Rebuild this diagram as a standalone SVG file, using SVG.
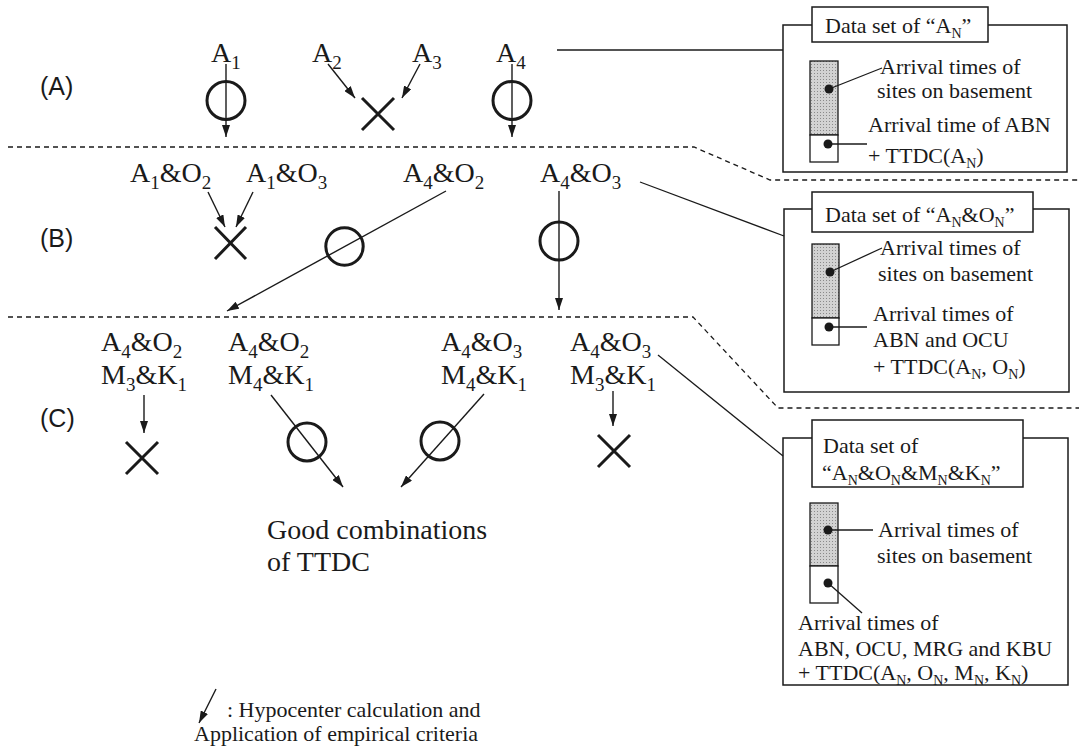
<svg xmlns="http://www.w3.org/2000/svg" width="1079" height="748" viewBox="0 0 1079 748">
<style>
.lbl{font-family:"Liberation Serif","Times New Roman",serif;font-size:28px;fill:#1a1a1a}
.sub{font-size:19px}
.sm{font-family:"Liberation Serif","Times New Roman",serif;font-size:22px;fill:#1a1a1a}
.ss{font-size:14px}
.sec{font-family:"Liberation Sans",Arial,sans-serif;font-size:25px;fill:#1a1a1a}
.arr{stroke:#1a1a1a;stroke-width:1.4;fill:none;marker-end:url(#ah)}
.ln{stroke:#1a1a1a;stroke-width:1.3;fill:none}
.dash{stroke:#1a1a1a;stroke-width:1.3;fill:none;stroke-dasharray:5 4}
.ok{stroke:#1a1a1a;stroke-width:3;fill:none}
.ng{stroke:#1a1a1a;stroke-width:3;fill:none}
.box{stroke:#1a1a1a;stroke-width:1.5;fill:none}
.hdr{stroke:#1a1a1a;stroke-width:1.5;fill:#fff}
.col{stroke:#1a1a1a;stroke-width:1.3;fill:#fff}
.shade{stroke:#1a1a1a;stroke-width:1.3;fill:url(#stip)}
.dot{fill:#1a1a1a}
</style>
<defs>
<marker id="ah" markerUnits="userSpaceOnUse" markerWidth="12" markerHeight="8" refX="12" refY="4" orient="auto">
<path d="M0,0 L12,4 L0,8 z" fill="#1a1a1a"/>
</marker>
<pattern id="stip" patternUnits="userSpaceOnUse" width="3" height="3">
<rect width="3" height="3" fill="#d2d2d2"/>
<rect x="1" y="1" width="1" height="1" fill="#8a8a8a"/>
</pattern>
</defs>
<rect width="1079" height="748" fill="#fff"/>

<g id="separators">
<path class="dash" d="M8,147 H694 L770,180 H1079"/>
<path class="dash" d="M8,317 H693 L778,408 H1079"/>
</g>

<g id="section-labels">
<text class="sec" x="40" y="95">(A)</text>
<text class="sec" x="40" y="247">(B)</text>
<text class="sec" x="40" y="427">(C)</text>
</g>

<g id="connectors">
<line class="arr" x1="226" y1="64" x2="226" y2="137"/>
<line class="arr" x1="328" y1="64" x2="355" y2="98"/>
<line class="arr" x1="420" y1="64" x2="402" y2="98"/>
<line class="arr" x1="512" y1="64" x2="512" y2="137"/>
<line class="ln" x1="557" y1="50" x2="783" y2="50"/>
<line class="arr" x1="208" y1="192" x2="225" y2="227"/>
<line class="arr" x1="253" y1="192" x2="236" y2="227"/>
<line class="arr" x1="446" y1="191" x2="227" y2="311"/>
<line class="arr" x1="559" y1="191" x2="559" y2="310"/>
<line class="ln" x1="640" y1="182" x2="784" y2="236"/>
<line class="arr" x1="144" y1="395" x2="144" y2="433"/>
<line class="arr" x1="271" y1="395" x2="343" y2="487"/>
<line class="arr" x1="484" y1="394" x2="401" y2="487"/>
<line class="arr" x1="613" y1="391" x2="613" y2="426"/>
<line class="ln" x1="658" y1="355" x2="783" y2="456"/>
</g>

<g id="nodeA1">
<text class="lbl" x="211" y="62">A<tspan class="sub" dy="7">1</tspan></text>
<circle class="ok" cx="226" cy="100.5" r="19"/>
</g>
<g id="nodeA2"><text class="lbl" x="312" y="62">A<tspan class="sub" dy="7">2</tspan></text></g>
<g id="nodeA3"><text class="lbl" x="412" y="62">A<tspan class="sub" dy="7">3</tspan></text></g>
<g id="markA23"><path class="ng" d="M362,98 L394,130 M394,98 L362,130"/></g>
<g id="nodeA4">
<text class="lbl" x="496" y="62">A<tspan class="sub" dy="7">4</tspan></text>
<circle class="ok" cx="512" cy="100.5" r="19"/>
</g>

<g id="nodeA1O2"><text class="lbl" x="130" y="182">A<tspan class="sub" dy="7">1</tspan><tspan dy="-7">&amp;O</tspan><tspan class="sub" dy="7">2</tspan></text></g>
<g id="nodeA1O3"><text class="lbl" x="246" y="182">A<tspan class="sub" dy="7">1</tspan><tspan dy="-7">&amp;O</tspan><tspan class="sub" dy="7">3</tspan></text></g>
<g id="markB1"><path class="ng" d="M215,227 L246,259 M246,227 L215,259"/></g>
<g id="nodeA4O2">
<text class="lbl" x="403" y="182">A<tspan class="sub" dy="7">4</tspan><tspan dy="-7">&amp;O</tspan><tspan class="sub" dy="7">2</tspan></text>
<circle class="ok" cx="344.5" cy="246.5" r="18.7"/>
</g>
<g id="nodeA4O3">
<text class="lbl" x="540" y="182">A<tspan class="sub" dy="7">4</tspan><tspan dy="-7">&amp;O</tspan><tspan class="sub" dy="7">3</tspan></text>
<circle class="ok" cx="559" cy="241" r="19"/>
</g>

<g id="nodeC1">
<text class="lbl" x="101" y="351">A<tspan class="sub" dy="7">4</tspan><tspan dy="-7">&amp;O</tspan><tspan class="sub" dy="7">2</tspan></text>
<text class="lbl" x="101" y="384">M<tspan class="sub" dy="7">3</tspan><tspan dy="-7">&amp;K</tspan><tspan class="sub" dy="7">1</tspan></text>
<path class="ng" d="M126,442 L158,474 M158,442 L126,474"/>
</g>
<g id="nodeC2">
<text class="lbl" x="228" y="351">A<tspan class="sub" dy="7">4</tspan><tspan dy="-7">&amp;O</tspan><tspan class="sub" dy="7">2</tspan></text>
<text class="lbl" x="228" y="384">M<tspan class="sub" dy="7">4</tspan><tspan dy="-7">&amp;K</tspan><tspan class="sub" dy="7">1</tspan></text>
<circle class="ok" cx="307" cy="442" r="19"/>
</g>
<g id="nodeC3">
<text class="lbl" x="441" y="351">A<tspan class="sub" dy="7">4</tspan><tspan dy="-7">&amp;O</tspan><tspan class="sub" dy="7">3</tspan></text>
<text class="lbl" x="441" y="384">M<tspan class="sub" dy="7">4</tspan><tspan dy="-7">&amp;K</tspan><tspan class="sub" dy="7">1</tspan></text>
<circle class="ok" cx="440" cy="441" r="19"/>
</g>
<g id="nodeC4">
<text class="lbl" x="570" y="351">A<tspan class="sub" dy="7">4</tspan><tspan dy="-7">&amp;O</tspan><tspan class="sub" dy="7">3</tspan></text>
<text class="lbl" x="570" y="384">M<tspan class="sub" dy="7">3</tspan><tspan dy="-7">&amp;K</tspan><tspan class="sub" dy="7">1</tspan></text>
<path class="ng" d="M598,435 L630,467 M630,435 L598,467"/>
</g>

<g id="result">
<text class="lbl" x="267" y="539">Good combinations</text>
<text class="lbl" x="267" y="571">of TTDC</text>
</g>

<g id="box1">
<rect class="box" x="783" y="25" width="284" height="147"/>
<rect class="hdr" x="812" y="7" width="176" height="35"/>
<text class="sm" x="825" y="33">Data set of “A<tspan class="ss" dy="5">N</tspan><tspan dy="-5">”</tspan></text>
<rect class="shade" x="810" y="61" width="28" height="74"/>
<rect class="col" x="810" y="135" width="28" height="27"/>
<circle class="dot" cx="829" cy="89" r="4.5"/>
<circle class="dot" cx="828" cy="144" r="4.5"/>
<line class="ln" x1="829" y1="89" x2="882" y2="68"/>
<line class="ln" x1="828" y1="144" x2="867" y2="144"/>
<text class="sm" x="880" y="74">Arrival times of</text>
<text class="sm" x="877" y="98">sites on basement</text>
<text class="sm" x="868" y="132">Arrival time of ABN</text>
<text class="sm" x="868" y="163">+ TTDC(A<tspan class="ss" dy="5">N</tspan><tspan dy="-5">)</tspan></text>
</g>

<g id="box2">
<rect class="box" x="784" y="209" width="285" height="183"/>
<rect class="hdr" x="812" y="192" width="221" height="40"/>
<text class="sm" x="825" y="222">Data set of “A<tspan class="ss" dy="5">N</tspan><tspan dy="-5">&amp;O</tspan><tspan class="ss" dy="5">N</tspan><tspan dy="-5">”</tspan></text>
<rect class="shade" x="812" y="244" width="27" height="74"/>
<rect class="col" x="812" y="318" width="27" height="27"/>
<circle class="dot" cx="830" cy="272" r="4.5"/>
<circle class="dot" cx="829" cy="327" r="4.5"/>
<line class="ln" x1="830" y1="272" x2="882" y2="248"/>
<line class="ln" x1="829" y1="327" x2="867" y2="327"/>
<text class="sm" x="880" y="255">Arrival times of</text>
<text class="sm" x="878" y="281">sites on basement</text>
<text class="sm" x="873" y="321">Arrival times of</text>
<text class="sm" x="873" y="347">ABN and OCU</text>
<text class="sm" x="873" y="374">+ TTDC(A<tspan class="ss" dy="5">N</tspan><tspan dy="-5">, O</tspan><tspan class="ss" dy="5">N</tspan><tspan dy="-5">)</tspan></text>
</g>

<g id="box3">
<rect class="box" x="783" y="438" width="285" height="247"/>
<rect class="hdr" x="812" y="420" width="211" height="67"/>
<text class="sm" x="823" y="453">Data set of</text>
<text class="sm" x="822" y="480">“A<tspan class="ss" dy="5">N</tspan><tspan dy="-5">&amp;O</tspan><tspan class="ss" dy="5">N</tspan><tspan dy="-5">&amp;M</tspan><tspan class="ss" dy="5">N</tspan><tspan dy="-5">&amp;K</tspan><tspan class="ss" dy="5">N</tspan><tspan dy="-5">”</tspan></text>
<rect class="shade" x="810" y="503" width="28" height="63"/>
<rect class="col" x="810" y="566" width="28" height="37"/>
<circle class="dot" cx="828" cy="530" r="4.5"/>
<circle class="dot" cx="828" cy="583" r="4.5"/>
<line class="ln" x1="828" y1="530" x2="873" y2="530"/>
<line class="ln" x1="828" y1="583" x2="862" y2="613"/>
<text class="sm" x="878" y="537">Arrival times of</text>
<text class="sm" x="877" y="563">sites on basement</text>
<text class="sm" x="798" y="630">Arrival times of</text>
<text class="sm" x="798" y="656">ABN, OCU, MRG and KBU</text>
<text class="sm" x="798" y="680">+ TTDC(A<tspan class="ss" dy="5">N</tspan><tspan dy="-5">, O</tspan><tspan class="ss" dy="5">N</tspan><tspan dy="-5">, M</tspan><tspan class="ss" dy="5">N</tspan><tspan dy="-5">, K</tspan><tspan class="ss" dy="5">N</tspan><tspan dy="-5">)</tspan></text>
</g>

<g id="legend">
<line class="arr" x1="216" y1="689" x2="199" y2="723"/>
<text class="sm" x="227" y="717">: Hypocenter calculation and</text>
<text class="sm" x="194" y="741">Application of empirical criteria</text>
</g>
</svg>
